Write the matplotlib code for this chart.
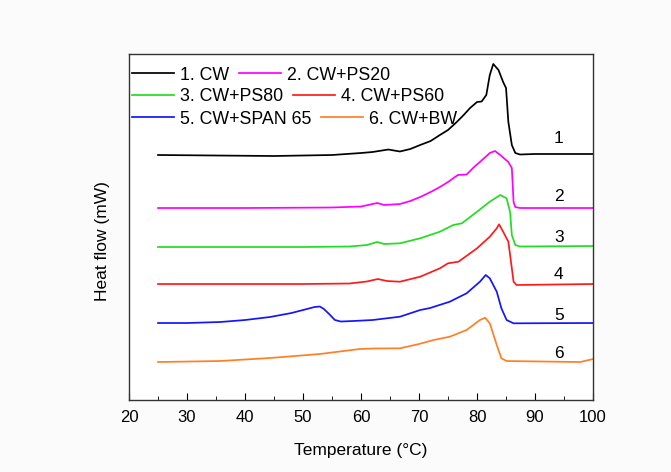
import matplotlib
matplotlib.use("Agg")
import matplotlib.pyplot as plt

plt.rcParams['font.family'] = ['Liberation Sans', 'DejaVu Sans']

# Heat flow values are in arbitrary (offset) units
t1 = [25, 35, 45, 55, 60, 62, 64.7, 66.7, 68.5, 70.2, 72, 73.6, 75, 76.5, 77.7, 78.8, 80, 80.8,
      81.6, 82.2, 82.8, 83.7, 84.5, 85, 85.4, 86, 86.6, 87.4, 90, 100]
h1 = [245, 244.5, 244, 245, 247, 248, 250.5, 248.5, 251, 255, 259, 265, 270, 278, 285, 292, 298, 298.5,
      305, 325, 336, 330, 318, 312, 278, 255, 247, 245.5, 246, 246]

t2 = [25, 40, 55, 60, 62, 62.8, 64, 66.7, 68.5, 70.2, 72, 73.6, 75, 76.2, 76.7, 78.2, 79.5, 80.5,
      82.2, 83.1, 84, 85.4, 86, 86.3, 86.6, 87.4, 100]
h2 = [192, 192, 192.5, 193.5, 196, 197, 195, 196, 199, 203, 208, 213, 218, 223, 225, 225.5, 233, 238,
      247, 249, 245, 238, 232, 198, 193, 192, 192]

t3 = [25, 50, 58, 61, 62.8, 64, 66.7, 70.2, 73.6, 75.9, 77.4, 80, 82.2, 84, 85.1, 85.7, 86, 86.6, 87.4, 100]
h3 = [153, 153, 153.5, 155, 158, 156, 156.7, 161.7, 168.3, 175, 176.7, 188.3, 198.3, 205, 201.7, 188,
      165, 155, 153.5, 154]

t4 = [25, 50, 58, 61, 62.9, 64.5, 66.7, 70.2, 73.6, 75, 76.8, 80, 82.2, 83.4, 83.8, 84.5, 85.4, 86,
      86.3, 86.8, 100]
h4 = [116, 116, 116.5, 118.5, 121, 119, 118.3, 123.3, 131.7, 136.7, 138.3, 151.7, 163.3, 171.7, 175.7,
      168.3, 158.3, 131.7, 118.3, 115, 116]

t5 = [25, 30, 35.7, 40, 44.3, 48, 50, 52, 52.9, 53.6, 54.5, 55.5, 56.5, 58.6, 62, 66.7, 70.2, 71.9,
      75.3, 78.2, 80.5, 81.5, 82.2, 83.4, 84.2, 85.1, 86.3, 100]
h5 = [77, 77, 78, 80, 83, 87, 90, 93, 93.5, 91, 86, 80, 78.5, 79, 80, 83.3, 90, 92,
      98.3, 106.7, 118.3, 125, 121.7, 108.3, 91.7, 80, 76.7, 77]

t6 = [25, 35.7, 44.3, 52.9, 57, 59.8, 62, 66.7, 70, 72.5, 75.3, 78.2, 80.5, 81.4, 82.2, 83.4, 84.2,
      85.1, 97.8, 100]
h6 = [38, 39, 42, 46, 49, 51, 51.5, 51.7, 56, 60, 63.3, 70, 80, 82.3, 76.7, 55, 41.7,
      39, 38, 41]

labels = ["1. CW", "2. CW+PS20", "3. CW+PS80", "4. CW+PS60", "5. CW+SPAN 65", "6. CW+BW"]
colors = ["#000000", "#ff00ff", "#22dd22", "#ff1a1a", "#1414ff", "#ff7f27"]
curve_nums = ["1", "2", "3", "4", "5", "6"]
num_y = [262, 204, 163, 126, 85, 47]
num_x = 94.1

fig = plt.figure(figsize=(6.71, 4.72), dpi=100)
fig.patch.set_facecolor("#fbfbfb")
ax = fig.add_axes([0.1923, 0.1525, 0.6915, 0.7331])

series = [(t1, h1), (t2, h2), (t3, h3), (t4, h4), (t5, h5), (t6, h6)]
handles = []
for (t, h), lab, c in zip(series, labels, colors):
    ln, = ax.plot(t, h, color=c, lw=1.25, label=lab, solid_joinstyle="round")
    handles.append(ln)

for s, y in zip(curve_nums, num_y):
    ax.text(num_x, y, s, ha="center", va="center", fontsize=12.5)

ax.set_xlim(20, 100)
ax.set_ylim(0, 346)
ax.set_xticks(range(20, 101, 10))
ax.set_xticks(range(25, 100, 10), minor=True)
ax.set_yticks([])
ax.tick_params(axis="x", which="major", direction="in", length=5, labelsize=12, pad=7)
ax.tick_params(axis="x", which="minor", direction="in", length=3)
for sp in ax.spines.values():
    sp.set_linewidth(1.0)
    sp.set_color("#333333")

ax.set_xlabel("Temperature (°C)", fontsize=12.5, labelpad=13)
ax.set_ylabel("Heat flow (mW)", fontsize=12.5)
ax.yaxis.set_label_coords(-0.042, 0.46)

# Legend: three rows, each row laid out independently
row_y = [0.939, 0.876, 0.812]
rows = [(0, 1), (2, 3), (4, 5)]
legs = []
for (i, j), yy in zip(rows, row_y):
    leg = ax.legend([handles[i], handles[j]], [labels[i], labels[j]], ncol=2, frameon=False,
                    loc="center left", bbox_to_anchor=(0.0065, yy), borderaxespad=0, borderpad=0,
                    fontsize=12.8, handlelength=2.36, handletextpad=0.35, columnspacing=0.52)
    legs.append(leg)
for leg in legs[:-1]:
    ax.add_artist(leg)

fig.savefig("out.png", dpi=100, facecolor=fig.get_facecolor())
